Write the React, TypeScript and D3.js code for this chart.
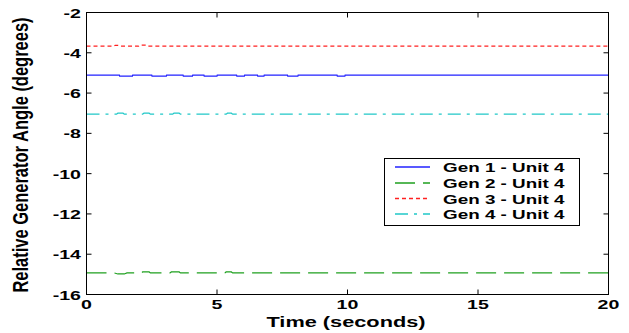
import React from "react";
import * as d3 from "d3";

const W = 629;
const H = 333;

const xTicks = [0, 5, 10, 15, 20];
const yTicks = [-16, -14, -12, -10, -8, -6, -4, -2];

const gen1T = [0, 1.26, 1.27, 1.76, 1.77, 2.5, 2.51, 3.06, 3.07, 3.7, 3.71, 4.06, 4.07, 4.5, 4.51, 5.0, 5.01, 5.75, 5.76, 6.05, 6.06, 6.55, 6.56, 6.8, 6.81, 7.7, 7.71, 8.1, 8.11, 9.6, 9.61, 9.9, 9.91, 20];
const gen1V = [-5.11, -5.11, -5.16, -5.16, -5.11, -5.11, -5.16, -5.16, -5.11, -5.11, -5.16, -5.16, -5.11, -5.11, -5.16, -5.16, -5.11, -5.11, -5.16, -5.16, -5.11, -5.11, -5.16, -5.16, -5.11, -5.11, -5.16, -5.16, -5.11, -5.11, -5.16, -5.16, -5.11, -5.11];

const gen2T = [0, 1.07, 1.2, 1.45, 1.55, 2.1, 2.15, 2.4, 2.45, 3.2, 3.25, 3.55, 3.6, 5.3, 5.35, 5.55, 5.6, 20];
const gen2V = [-14.93, -14.93, -14.98, -14.98, -14.93, -14.93, -14.88, -14.88, -14.93, -14.93, -14.88, -14.88, -14.93, -14.93, -14.88, -14.88, -14.93, -14.93];

const gen3T = [0, 1.05, 1.1, 1.2, 1.25, 2.0, 2.05, 2.3, 2.35, 20];
const gen3V = [-3.67, -3.67, -3.63, -3.63, -3.67, -3.67, -3.62, -3.62, -3.67, -3.67];

const gen4T = [0, 1.15, 1.2, 1.4, 1.45, 2.15, 2.2, 2.4, 2.45, 3.3, 3.35, 3.55, 3.6, 5.35, 5.4, 5.55, 5.6, 20];
const gen4V = [-7.05, -7.05, -7.0, -7.0, -7.05, -7.05, -7.0, -7.0, -7.05, -7.05, -7.0, -7.0, -7.05, -7.05, -7.0, -7.0, -7.05, -7.05];

const seriesNames = ["Gen 1 - Unit 4", "Gen 2 - Unit 4", "Gen 3 - Unit 4", "Gen 4 - Unit 4"];
const seriesColors = ["#2222ff", "#1fa01f", "#ff2020", "#20c8c8"];
const seriesDash = ["", "20,8", "4,3", "13,6,3,6"];

const FONT = "'Liberation Sans', Arial, sans-serif";
const SX = 1.45;

export default function App() {
  const left = 86.5, right = 608.5, top = 12.5, bottom = 294.5;
  const x = d3.scaleLinear().domain([0, 20]).range([left, right]);
  const y = d3.scaleLinear().domain([-16, -2]).range([bottom, top]);
  const line = d3
    .line<[number, number]>()
    .x((d) => x(d[0]))
    .y((d) => y(d[1]));

  const series = [
    gen1T.map((t, i) => [t, gen1V[i]] as [number, number]),
    gen2T.map((t, i) => [t, gen2V[i]] as [number, number]),
    gen3T.map((t, i) => [t, gen3V[i]] as [number, number]),
    gen4T.map((t, i) => [t, gen4V[i]] as [number, number]),
  ];

  const tl = 5;
  const lgX = 384.5, lgY = 158.5, lgW = 195, lgH = 67;
  const lgRows = [167, 183, 198.5, 214];

  return (
    <svg
      width={W}
      height={H}
      style={{ position: "absolute", left: 0, top: 0, background: "#fff" }}
      fontFamily={FONT}
    >
      <rect x={0} y={0} width={W} height={H} fill="#fff" />
      {series.map((d, i) => (
        <path
          key={i}
          d={line(d) || ""}
          fill="none"
          stroke={seriesColors[i]}
          strokeWidth={1.2}
          strokeDasharray={seriesDash[i] || undefined}
        />
      ))}
      <rect x={left} y={top} width={right - left} height={bottom - top} fill="none" stroke="#000" strokeWidth={1} />
      {xTicks.map((t) => (
        <g key={"x" + t}>
          <line x1={x(t)} x2={x(t)} y1={bottom} y2={bottom - tl} stroke="#000" />
          <line x1={x(t)} x2={x(t)} y1={top} y2={top + tl} stroke="#000" />
          <text
            transform={`translate(${x(t)},309) scale(${SX},1)`}
            textAnchor="middle"
            fontSize={13.5}
            fontWeight="bold"
          >
            {t}
          </text>
        </g>
      ))}
      {yTicks.map((t) => (
        <g key={"y" + t}>
          <line x1={left} x2={left + tl} y1={y(t)} y2={y(t)} stroke="#000" />
          <line x1={right} x2={right - tl} y1={y(t)} y2={y(t)} stroke="#000" />
          <text
            transform={`translate(81,${y(t) + 5}) scale(${SX},1)`}
            textAnchor="end"
            fontSize={13.5}
            fontWeight="bold"
          >
            {t}
          </text>
        </g>
      ))}
      <text
        transform={`translate(346,327) scale(${SX},1)`}
        textAnchor="middle"
        fontSize={15}
        fontWeight="bold"
      >
        Time (seconds)
      </text>
      <text
        transform={`translate(28,155) scale(1.3,1) rotate(-90)`}
        textAnchor="middle"
        fontSize={16.5}
        fontWeight="bold"
      >
        Relative Generator Angle (degrees)
      </text>
      <rect x={lgX} y={lgY} width={lgW} height={lgH} fill="#fff" stroke="#000" strokeWidth={1} />
      {seriesNames.map((n, i) => (
        <g key={n}>
          <line
            x1={395}
            x2={430}
            y1={lgRows[i]}
            y2={lgRows[i]}
            stroke={seriesColors[i]}
            strokeWidth={1.5}
            strokeDasharray={seriesDash[i] || undefined}
          />
          <text
            transform={`translate(443,${lgRows[i] + 5}) scale(${SX},1)`}
            fontSize={13}
            fontWeight="bold"
          >
            {n}
          </text>
        </g>
      ))}
    </svg>
  );
}
